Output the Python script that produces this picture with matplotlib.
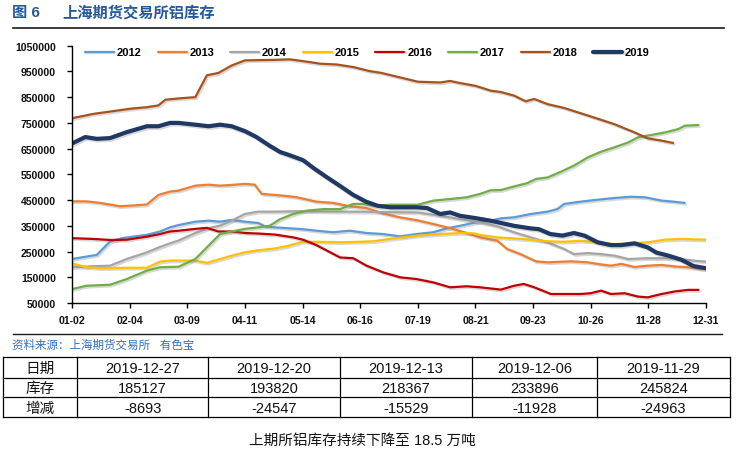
import matplotlib
matplotlib.use('Agg')
import matplotlib.pyplot as plt
import matplotlib.patheffects as pe
import numpy as np

plt.rcParams['font.family'] = ['Liberation Sans', 'Noto Sans CJK SC']

# ---------------- data (x in tick units: 0 = 01-02 ... 11 = 12-31; values in thousand tonnes) ----
UNIT = 1000
tick_labels = ['01-02', '02-04', '03-09', '04-11', '05-14', '06-16', '07-19',
               '08-21', '09-23', '10-26', '11-28', '12-31']
years = ['2012', '2013', '2014', '2015', '2016', '2017', '2018', '2019']

t12 = [0, 0.43, 0.66, 0.89, 1.3, 1.53, 1.7, 1.85, 2.14, 2.37, 2.57, 2.77, 3.0, 3.23, 3.35, 3.52,
       4.0, 4.24, 4.53, 4.82, 5.11, 5.4, 5.69, 5.98, 6.27, 6.5, 6.73, 7.0, 7.26, 7.44, 7.67, 7.96,
       8.25, 8.42, 8.54, 8.83, 9.06, 9.41, 9.7, 9.94, 10.23, 10.43, 10.63]
v12 = [221, 237, 289, 303, 315, 328, 344, 353, 366, 370, 366, 373, 366, 361, 348, 344,
       337, 331, 325, 331, 322, 318, 309, 318, 325, 340, 350, 363, 370, 379, 383, 396,
       405, 415, 435, 444, 450, 458, 463, 461, 448, 444, 439]

t13 = [0, 0.25, 0.49, 0.83, 1.06, 1.3, 1.5, 1.7, 1.85, 2.14, 2.37, 2.57, 2.77, 3.0, 3.17, 3.29,
       3.52, 3.67, 3.9, 4.24, 4.53, 4.82, 5.11, 5.4, 5.69, 5.98, 6.27, 6.56, 6.85, 7.08, 7.38,
       7.55, 7.78, 8.05, 8.25, 8.66, 8.95, 9.12, 9.35, 9.53, 9.76, 9.99, 10.23, 10.46, 10.69,
       10.92, 11.0]
v13 = [445, 445, 439, 426, 429, 433, 470, 483, 487, 506, 510, 506, 509, 513, 510, 474,
       470, 467, 461, 444, 439, 426, 419, 398, 383, 372, 357, 341, 322, 305, 292,
       260, 240, 212, 208, 212, 208, 202, 195, 202, 190, 195, 198, 192, 189,
       182, 182]

t14 = [0, 0.37, 0.66, 0.95, 1.3, 1.53, 1.7, 1.85, 2.14, 2.37, 2.57, 2.77, 3.0, 3.23, 3.52, 4.0,
       4.5, 5.0, 5.5, 6.0, 6.39, 6.73, 7.09, 7.38, 7.67, 7.96, 8.25, 8.54, 8.71, 8.95, 9.18,
       9.41, 9.65, 9.99, 10.28, 10.58, 10.81, 11.0]
v14 = [189, 193, 195, 221, 247, 268, 282, 293, 322, 341, 351, 370, 396, 405, 405, 407,
       405, 405, 403, 402, 389, 376, 363, 348, 325, 305, 286, 260, 240, 244, 240,
       234, 221, 224, 224, 221, 214, 211]

t15 = [0, 0.25, 0.49, 0.95, 1.3, 1.53, 1.7, 2.14, 2.34, 2.57, 2.77, 3.0, 3.23, 3.52, 3.75, 4.0,
       4.25, 4.65, 4.99, 5.23, 5.52, 6.0, 6.39, 6.73, 6.97, 7.09, 7.38, 7.67, 7.96, 8.25, 8.54,
       8.84, 9.12, 9.41, 9.7, 9.99, 10.28, 10.58, 11.0]
v15 = [204, 189, 185, 187, 187, 211, 215, 215, 206, 221, 234, 247, 255, 262, 272, 288,
       288, 286, 288, 290, 299, 312, 318, 322, 321, 314, 305, 301, 296, 290, 288,
       292, 286, 279, 282, 286, 296, 299, 296]

t16 = [0, 0.37, 0.66, 0.95, 1.3, 1.53, 1.7, 1.85, 2.14, 2.34, 2.54, 2.77, 3.0, 3.23, 3.52, 3.84,
       4.01, 4.24, 4.48, 4.65, 4.88, 5.11, 5.4, 5.69, 5.98, 6.27, 6.56, 6.85, 7.08, 7.44, 7.67,
       7.84, 8.02, 8.31, 8.6, 8.83, 9.0, 9.18, 9.35, 9.59, 9.82, 9.99, 10.23, 10.46, 10.69, 10.87]
v16 = [302, 299, 295, 296, 308, 318, 328, 331, 338, 342, 328, 328, 322, 320, 316, 305,
       296, 275, 247, 227, 224, 195, 169, 150, 143, 130, 111, 115, 111, 102, 117,
       124, 111, 85, 85, 85, 88, 98, 85, 88, 75, 72, 85, 95, 101, 101]

t17 = [0, 0.25, 0.66, 0.95, 1.3, 1.53, 1.85, 2.14, 2.57, 2.77, 3.0, 3.23, 3.43, 3.61, 3.84, 4.07,
       4.36, 4.65, 4.88, 5.05, 5.23, 5.52, 6.0, 6.27, 6.56, 6.85, 7.08, 7.26, 7.44, 7.67, 7.9,
       8.05, 8.25, 8.48, 8.71, 8.95, 9.18, 9.41, 9.65, 9.82, 10.05, 10.29, 10.52, 10.63, 10.87]
v17 = [104, 117, 121, 143, 176, 189, 191, 221, 318, 328, 338, 344, 350, 376, 396, 409,
       415, 415, 435, 435, 428, 432, 432, 448, 454, 461, 474, 488, 489, 503, 516,
       532, 538, 560, 584, 616, 638, 655, 674, 694, 703, 713, 726, 739, 742]

t18 = [0, 0.37, 0.66, 1.01, 1.3, 1.5, 1.62, 1.9, 2.14, 2.34, 2.54, 2.77, 3.0, 3.52, 3.78, 4.01,
       4.31, 4.59, 4.88, 5.17, 5.35, 5.52, 6.0, 6.39, 6.56, 6.73, 7.0, 7.27, 7.44, 7.67, 7.87,
       8.02, 8.25, 8.54, 9.0, 9.41, 9.76, 9.99, 10.23, 10.43]
v18 = [768, 785, 794, 805, 811, 818, 840, 846, 850, 935, 944, 973, 993, 995, 997, 990,
       980, 977, 967, 951, 945, 936, 910, 907, 913, 905, 894, 875, 870, 856, 834,
       843, 823, 808, 775, 745, 713, 690, 681, 672]

t19 = [0, 0.23, 0.43, 0.66, 0.95, 1.3, 1.5, 1.7, 1.85, 2.14, 2.37, 2.57, 2.77, 3.0, 3.2, 3.43,
       3.61, 3.78, 4.01, 4.2, 4.42, 4.65, 4.88, 5.1, 5.3, 5.52, 5.98, 6.16, 6.39, 6.56, 6.73,
       7.0, 7.26, 7.67, 7.96, 8.1, 8.3, 8.51, 8.71, 8.89, 9.12, 9.35, 9.53, 9.76, 9.99,
       10.14, 10.35, 10.57, 10.78, 11.0]
v19 = [670, 695, 688, 691, 714, 737, 737, 750, 750, 743, 737, 743, 737, 718, 695, 661,
       637, 624, 605, 573, 539, 505, 470, 444, 428, 422, 422, 419, 396, 402, 389,
       380, 370, 350, 340, 337, 318, 312, 322, 312, 286, 275, 275, 282, 266,
       245.824, 233.896, 218.367, 193.820, 185.127]

# table data
table_dates = ['2019-12-27', '2019-12-20', '2019-12-13', '2019-12-06', '2019-11-29']
table_stock = [185127, 193820, 218367, 233896, 245824]
table_change = [-8693, -24547, -15529, -11928, -24963]
row_heads = ['日期', '库存', '增减']

colors = ['#5B9BD5', '#ED7D31', '#A5A5A5', '#FFC000', '#C00000', '#70AD47', '#A5521B', '#1F3864']
widths = [1.6, 1.6, 1.6, 1.6, 1.6, 1.6, 1.6, 3.0]
series_t = [t12, t13, t14, t15, t16, t17, t18, t19]
series_v = [v12, v13, v14, v15, v16, v17, v18, v19]

# ---------------- figure ----------------
W, H = 737, 452
fig = plt.figure(figsize=(W / 100, H / 100), dpi=100)


def fx(px):
    return px / W


def fy(py):
    return 1 - py / H


ax = fig.add_axes([fx(72), fy(304), fx(706) - fx(72), fy(46.7) - fy(304)])

for yr, tt, vv, c, lw in zip(years, series_t, series_v, colors, widths):
    ax.plot(tt, np.array(vv) * UNIT, color=c, lw=lw, label=yr,
            solid_joinstyle='round', solid_capstyle='round',
            path_effects=[pe.SimpleLineShadow(offset=(1, -1.2), shadow_color='#808080', alpha=0.3),
                          pe.Normal()])

ax.set_xlim(0, 11)
ax.set_ylim(50000, 1050000)
ax.set_yticks(np.arange(50000, 1050001, 100000))
ax.set_yticklabels([str(v) for v in range(50000, 1050001, 100000)])
ax.set_xticks(range(len(tick_labels)))
ax.set_xticklabels(tick_labels)
for s in ['top', 'right']:
    ax.spines[s].set_visible(False)
for s in ['left', 'bottom']:
    ax.spines[s].set_color('#000000')
    ax.spines[s].set_linewidth(1.0)
ax.tick_params(axis='both', direction='out', length=3.5, width=1.0, color='#000000')
ax.tick_params(axis='y', pad=8)
ax.tick_params(axis='x', pad=5)
for lab in ax.get_yticklabels() + ax.get_xticklabels():
    lab.set_fontsize(7.6)
    lab.set_fontweight('bold')
    lab.set_color('#111111')
ax.patch.set_alpha(0)

leg = ax.legend(loc='upper left', bbox_to_anchor=(fx(85), fy(48.5)), bbox_transform=fig.transFigure,
                ncol=8, frameon=False, fontsize=8, handlelength=2.6, handletextpad=0.25,
                columnspacing=1.45, borderpad=0, borderaxespad=0,
                prop={'weight': 'bold', 'size': 8})

# ---------------- overlay for title, source, table ----------------
ov = fig.add_axes([0, 0, 1, 1], zorder=-1)
ov.set_xlim(0, W)
ov.set_ylim(H, 0)
ov.axis('off')

title_color = '#245A9B'
ov.text(12, 13, '图 6', fontsize=11, fontweight='bold', color=title_color, va='center', ha='left')
ov.text(62, 13, '上海期货交易所铝库存', fontsize=11, fontweight='bold', color=title_color,
        va='center', ha='left')
ov.plot([13, 724], [28.5, 28.5], color='#1a1a1a', lw=1.2)

ov.plot([13, 722], [335, 335], color='#1a1a1a', lw=1.0)
ov.text(12, 345.5, '资料来源：上海期货交易所   有色宝', fontsize=8.3, color='#3570B8',
        style='italic', va='center', ha='left')

# table
col_edges = [3, 77, 208.5, 340, 472, 597, 730]
row_edges = [358, 378.7, 398.4, 418.3]
for y in row_edges:
    ov.plot([col_edges[0], col_edges[-1]], [y, y], color='black', lw=0.9)
for x in col_edges:
    ov.plot([x, x], [row_edges[0], row_edges[-1]], color='black', lw=0.9)

rows = [row_heads[0:1] + table_dates,
        row_heads[1:2] + [str(v) for v in table_stock],
        row_heads[2:3] + [str(v) for v in table_change]]
for r, row in enumerate(rows):
    yc = (row_edges[r] + row_edges[r + 1]) / 2
    for c, txt in enumerate(row):
        xc = (col_edges[c] + col_edges[c + 1]) / 2
        ov.text(xc, yc + 0.5, txt, fontsize=10.5, color='#111111', ha='center', va='center')

ov.text(362, 441, '上期所铝库存持续下降至 18.5 万吨', fontsize=10.5, color='#111111',
        ha='center', va='center')

fig.savefig('out.png', dpi=100)
